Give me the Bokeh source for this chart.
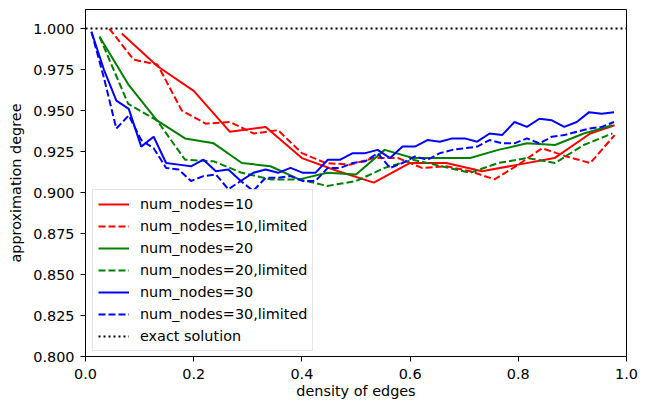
from bokeh.plotting import figure
from bokeh.models import Range1d, FixedTicker, NumeralTickFormatter, Legend, LegendItem
from bokeh.embed import file_html
from bokeh.resources import INLINE

# ---- data ----
x_n10 = [0.067, 0.133, 0.2, 0.267, 0.333, 0.4, 0.467, 0.533, 0.6, 0.667, 0.733, 0.8, 0.867, 0.933, 0.978]
y_n10 = [0.997, 0.977, 0.962, 0.937, 0.940, 0.921, 0.913, 0.906, 0.918, 0.918, 0.913, 0.917, 0.921, 0.936, 0.941]

x_n10_lim = [0.044, 0.089, 0.133, 0.178, 0.222, 0.267, 0.311, 0.356, 0.4, 0.444, 0.489, 0.533, 0.578,
             0.622, 0.667, 0.711, 0.756, 0.8, 0.844, 0.889, 0.933, 0.978]
y_n10_lim = [1.000, 0.981, 0.978, 0.950, 0.942, 0.943, 0.936, 0.938, 0.924, 0.918, 0.917, 0.921, 0.921,
             0.915, 0.916, 0.913, 0.908, 0.917, 0.927, 0.922, 0.918, 0.935]

x_n20 = [0.026, 0.079, 0.132, 0.184, 0.237, 0.289, 0.342, 0.395, 0.447, 0.5, 0.553, 0.605, 0.658,
         0.711, 0.763, 0.816, 0.868, 0.921, 0.974]
y_n20 = [0.995, 0.966, 0.944, 0.933, 0.930, 0.918, 0.916, 0.908, 0.912, 0.911, 0.926, 0.921, 0.921,
         0.921, 0.926, 0.930, 0.929, 0.936, 0.941]
y_n20_lim = [0.995, 0.954, 0.944, 0.920, 0.919, 0.912, 0.908, 0.908, 0.904, 0.907, 0.915, 0.920, 0.916,
             0.912, 0.918, 0.921, 0.918, 0.929, 0.936]

x_n30 = [0.011, 0.034, 0.057, 0.080, 0.103, 0.126, 0.149, 0.172, 0.195, 0.218, 0.241, 0.264, 0.287,
         0.310, 0.333, 0.356, 0.379, 0.402, 0.425, 0.448, 0.471, 0.494, 0.517, 0.540, 0.563, 0.586,
         0.609, 0.632, 0.655, 0.678, 0.701, 0.724, 0.747, 0.770, 0.793, 0.816, 0.839, 0.862, 0.885,
         0.908, 0.931, 0.954, 0.977]
y_n30 = [0.998, 0.975, 0.956, 0.951, 0.928, 0.934, 0.918, 0.917, 0.916, 0.920, 0.913, 0.914, 0.907,
         0.912, 0.914, 0.912, 0.915, 0.912, 0.912, 0.920, 0.920, 0.924, 0.924, 0.926, 0.921, 0.928,
         0.928, 0.932, 0.931, 0.933, 0.933, 0.931, 0.936, 0.935, 0.943, 0.940, 0.945, 0.944, 0.940,
         0.943, 0.949, 0.948, 0.949]
y_n30_lim = [0.998, 0.970, 0.939, 0.947, 0.932, 0.927, 0.915, 0.914, 0.907, 0.910, 0.911, 0.902, 0.907,
             0.901, 0.909, 0.909, 0.910, 0.907, 0.907, 0.915, 0.915, 0.918, 0.919, 0.924, 0.915, 0.918,
             0.922, 0.920, 0.924, 0.926, 0.927, 0.928, 0.932, 0.930, 0.930, 0.933, 0.930, 0.934, 0.935,
             0.937, 0.939, 0.940, 0.943]

exact_x = [0.0, 1.0]
exact_y = [1.0, 1.0]

x_ticks = [0.0, 0.2, 0.4, 0.6, 0.8, 1.0]
y_ticks = [0.800, 0.825, 0.850, 0.875, 0.900, 0.925, 0.950, 0.975, 1.000]

labels = ["num_nodes=10", "num_nodes=10,limited", "num_nodes=20", "num_nodes=20,limited",
          "num_nodes=30", "num_nodes=30,limited", "exact solution"]

FONT = "DejaVu Sans"
FS = "14.4px"

p = figure(width=650, height=402, output_backend="svg", toolbar_location=None,
           x_range=Range1d(0, 1), y_range=Range1d(0.8, 1.0116),
           min_border_left=85, min_border_right=24, min_border_top=9, min_border_bottom=46)
p.xgrid.visible = False
p.ygrid.visible = False
p.outline_line_color = "black"
p.outline_line_width = 1
p.outline_line_alpha = 1
p.background_fill_color = "white"
p.border_fill_color = "white"

lw = 2
dash = "7 3"
r1 = p.line(x_n10, y_n10, line_color="#ff0000", line_width=lw)
r2 = p.line(x_n10_lim, y_n10_lim, line_color="#ff0000", line_width=lw, line_dash=dash)
r3 = p.line(x_n20, y_n20, line_color="#008000", line_width=lw)
r4 = p.line(x_n20, y_n20_lim, line_color="#008000", line_width=lw, line_dash=dash)
r5 = p.line(x_n30, y_n30, line_color="#0000ff", line_width=lw)
r6 = p.line(x_n30, y_n30_lim, line_color="#0000ff", line_width=lw, line_dash=dash)
r7 = p.line(exact_x, exact_y, line_color="black", line_width=lw, line_dash="2 3")

for ax in (p.xaxis[0], p.yaxis[0]):
    ax.axis_line_color = "black"
    ax.major_tick_line_color = "black"
    ax.major_tick_out = 5
    ax.major_tick_in = 0
    ax.minor_tick_line_color = None
    ax.major_label_text_font = FONT
    ax.major_label_text_font_size = FS
    ax.major_label_text_color = "black"
    ax.axis_label_text_font = FONT
    ax.axis_label_text_font_size = FS
    ax.axis_label_text_font_style = "normal"
    ax.axis_label_text_color = "black"

p.xaxis[0].ticker = FixedTicker(ticks=x_ticks)
p.xaxis[0].formatter = NumeralTickFormatter(format="0.0")
p.xaxis[0].axis_label = "density of edges"
p.xaxis[0].major_label_standoff = 7
p.xaxis[0].axis_label_standoff = 1

p.yaxis[0].ticker = FixedTicker(ticks=y_ticks)
p.yaxis[0].formatter = NumeralTickFormatter(format="0.000")
p.yaxis[0].axis_label = "approximation degree"
p.yaxis[0].major_label_standoff = 6
p.yaxis[0].axis_label_standoff = 6

items = [LegendItem(label=l, renderers=[r]) for l, r in zip(labels, [r1, r2, r3, r4, r5, r6, r7])]
legend = Legend(items=items, location=(7, 5))
legend.label_text_font = FONT
legend.label_text_font_size = FS
legend.label_text_color = "black"
legend.glyph_width = 31
legend.glyph_height = 18
legend.label_height = 18
legend.label_standoff = 11
legend.spacing = 4
legend.padding = 5
legend.margin = 0
legend.border_line_color = "#cccccc"
legend.border_line_width = 1
legend.background_fill_alpha = 0.8
p.add_layout(legend, "center")

open("out.html", "w").write(file_html(p, INLINE))
